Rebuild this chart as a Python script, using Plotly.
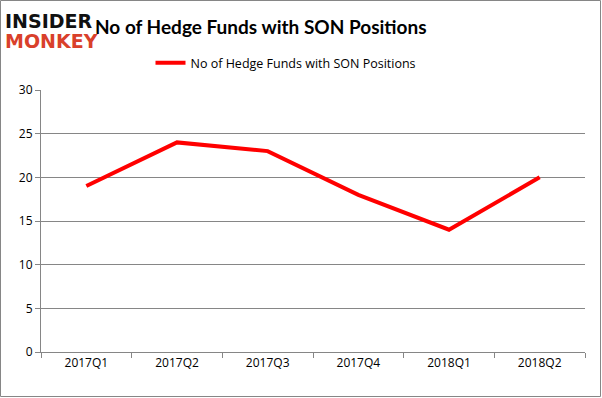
import plotly.graph_objects as go

quarters = ["2017Q1", "2017Q2", "2017Q3", "2017Q4", "2018Q1", "2018Q2"]
funds = [19, 24, 23, 18, 14, 20]
series_name = "No of Hedge Funds with SON Positions"
y_ticks = [0, 5, 10, 15, 20, 25, 30]

W, H = 602, 398
L, R, T, B = 41, 17, 90, 46
PW, PH = W - L - R, H - T - B


def px(x):
    return (x - L) / PW


def py(y):
    return 1 - (y - T) / PH


fig = go.Figure()
fig.add_trace(go.Scatter(
    x=quarters, y=funds, mode="lines", name=series_name,
    line=dict(color="#ff0000", width=4),
))

fig.update_layout(
    width=W, height=H,
    margin=dict(l=L, r=R, t=T, b=B, autoexpand=False),
    paper_bgcolor="white", plot_bgcolor="white",
    font=dict(family="Open Sans, DejaVu Sans, sans-serif", size=11, color="#000000"),
    showlegend=True,
    legend=dict(orientation="h", x=px(286), xanchor="center",
                y=py(63), yanchor="middle",
                font=dict(size=12.5), itemwidth=30, bgcolor="rgba(0,0,0,0)"),
    xaxis=dict(
        type="category", showgrid=False, showline=True, linecolor="#868686",
        ticks="outside", tickson="boundaries", ticklen=5, tickcolor="#868686",
        tickfont=dict(size=12), range=[-0.5, 5.5], automargin=False,
    ),
    yaxis=dict(
        range=[0, 30], tickvals=y_ticks, showgrid=True, gridcolor="#868686",
        gridwidth=1, showline=True, linecolor="#868686", ticks="outside",
        ticklen=5, tickcolor="#868686", zeroline=False, tickfont=dict(size=12),
        automargin=False,
    ),
)

fig.add_annotation(text="<b>No of Hedge Funds with SON Positions</b>",
                   xref="paper", yref="paper", x=px(261), y=py(26),
                   xanchor="center", yanchor="middle", showarrow=False,
                   font=dict(size=19, color="#000000", family="Lato, Open Sans, sans-serif"))
fig.add_annotation(text="<b>INSIDER</b>", xref="paper", yref="paper",
                   x=px(3), y=py(21), xanchor="left", yanchor="middle", showarrow=False,
                   font=dict(size=19, color="#111111", family="DejaVu Sans"))
fig.add_annotation(text="<b>MONKEY</b>", xref="paper", yref="paper",
                   x=px(3), y=py(41), xanchor="left", yanchor="middle", showarrow=False,
                   font=dict(size=19, color="#d9402b", family="DejaVu Sans"))
fig.add_shape(type="rect", xref="paper", yref="paper",
              x0=px(0.5), x1=px(W - 1.5), y0=py(H - 1.5), y1=py(0.5),
              line=dict(color="#868686", width=1))

fig.write_html("out.html", config={"displayModeBar": False},
               post_script="document.body.style.margin='0';")
